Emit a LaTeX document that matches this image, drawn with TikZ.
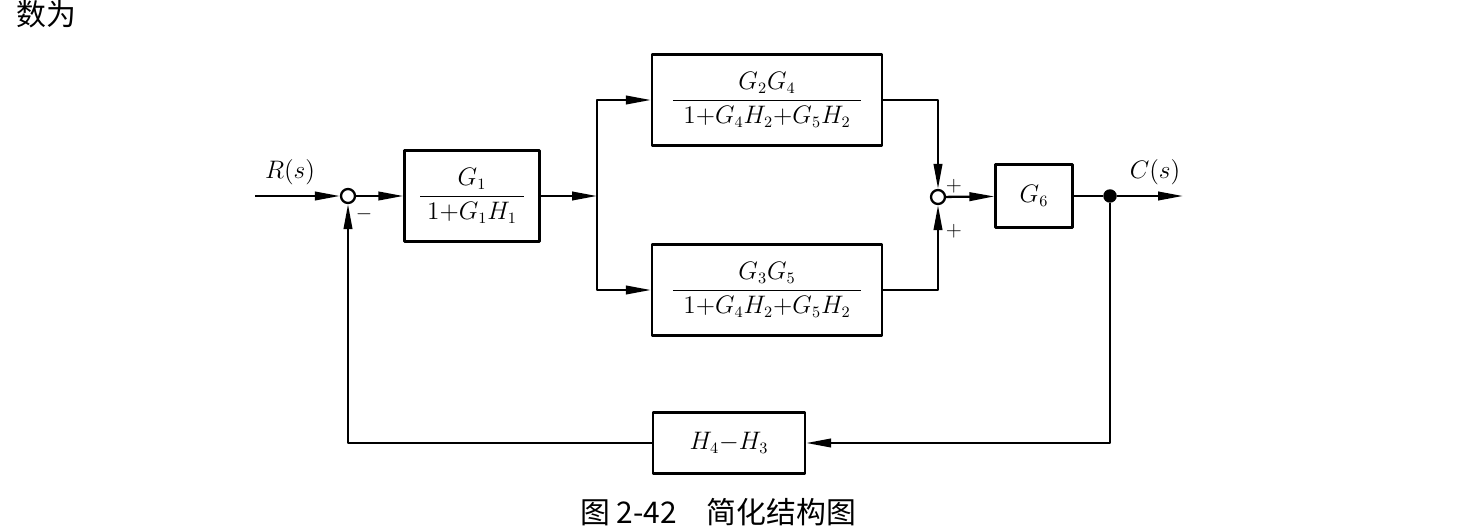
\documentclass[tikz,border=0pt]{standalone}
\usepackage{amsmath}
\usepackage{fontspec}
\newfontfamily\cjk{Noto Sans CJK SC}
\usetikzlibrary{arrows.meta,calc}

\tikzset{
  blk/.style={draw, line width=1.3pt, minimum height=1.82cm, inner sep=0pt},
  sumc/.style={draw, circle, line width=1.3pt, minimum size=0.28cm, inner sep=0pt},
  dotc/.style={circle, fill, minimum size=0.27cm, inner sep=0pt},
  sig/.style={line width=1.3pt, -{Triangle[length=0.5cm,width=0.17cm]}},
  wire/.style={line width=1.3pt},
  sgn/.style={font=\fontsize{12}{14}\selectfont},
  cjktext/.style={font=\cjk\fontsize{17}{20}\selectfont, inner sep=0pt},
}

\begin{document}
\begin{tikzpicture}[x=0.02cm, y=-0.02cm, font=\fontsize{13.5}{16}\selectfont, line join=round]
	\useasboundingbox (0,0) rectangle (1460,530);
	% blocks and summing points
	\coordinate (in) at (255,196);
	\node[sumc] (s1) at (348,196) {};
	\node[blk, minimum width=2.7cm] (g1) at (472,196) {$\dfrac{G_1}{\;1{+}G_1H_1\;}$};
	\coordinate (br) at (597,196);
	\node[blk, minimum width=4.6cm] (gt) at (767,100) {$\dfrac{G_2G_4}{\hspace{6pt}1{+}G_4H_2{+}G_5H_2\hspace{6pt}}$};
	\node[blk, minimum width=4.6cm] (gb) at (767,290) {$\dfrac{G_3G_5}{\hspace{6pt}1{+}G_4H_2{+}G_5H_2\hspace{6pt}}$};
	\node[sumc] (s2) at (938,197) {};
	\node[blk, minimum width=1.54cm, minimum height=1.26cm] (g6) at (1034,196) {$G_6$};
	\node[dotc] (d) at (1110,196) {};
	\coordinate (out) at (1183,196);
	\node[blk, minimum width=3.04cm, minimum height=1.22cm] (h) at (729,443) {$H_4{-}H_3$};
	% signals
	\draw[sig] (in) -- (s1);
	\draw[sig] (s1) -- (g1);
	\draw[sig] (g1) -- (br);
	\draw[sig] (br) |- (gt);
	\draw[sig] (br) |- (gb);
	\draw[sig] (gt) -| (s2);
	\draw[sig] (gb) -| (s2);
	\draw[sig] (s2) -- (g6);
	\draw[wire] (g6) -- (d);
	\draw[sig] (d) -- (out);
	\draw[sig] (d) |- (h);
	\draw[sig] (h) -| (s1);
	% labels
	\node (rl) at (290,172) {$R(s)$};
	\node (cl) at (1155,172) {$C(s)$};
	\node[sgn] (m1) at (364,214) {$-$};
	\node[sgn] (p1) at (954,186) {$+$};
	\node[sgn] (p2) at (954,231) {$+$};
	\node[cjktext] (txt) at (46,14) {数为};
	\node[cjktext] (cap) at (718,512) {图 2-42\quad 简化结构图};
\end{tikzpicture}
\end{document}
